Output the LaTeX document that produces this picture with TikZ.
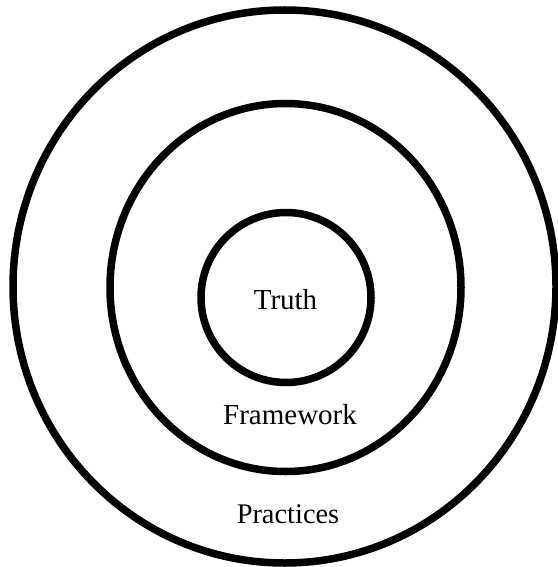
\documentclass[tikz,border=0pt]{standalone}
\usepackage{fontspec}
\setmainfont{Liberation Serif}
\usetikzlibrary{shapes.geometric}
\begin{document}
\begin{tikzpicture}[x=1pt,y=-1pt,
  ring/.style={draw=black,line width=7.5pt,ellipse,inner sep=0pt,outer sep=0pt},
  lbl/.style={anchor=base,inner sep=0pt,font=\fontsize{29}{34}\selectfont}]
\useasboundingbox[fill=white] (0,0) rectangle (557,567);
\node[ring,minimum width=543pt,minimum height=553pt] (outer) at (284.5,286.5) {};
\node[ring,minimum width=351pt,minimum height=368pt] (middle) at (285.5,287.5) {};
\node[ring,minimum width=170pt,minimum height=170pt] (inner) at (286,297.5) {};
\node[lbl] (truth) at (285.5,309.3) {Truth};
\node[lbl] (framework) at (290,424) {Framework};
\node[lbl,font=\fontsize{28.4}{33}\selectfont] (practices) at (288,523.3) {Practices};
\end{tikzpicture}
\end{document}
